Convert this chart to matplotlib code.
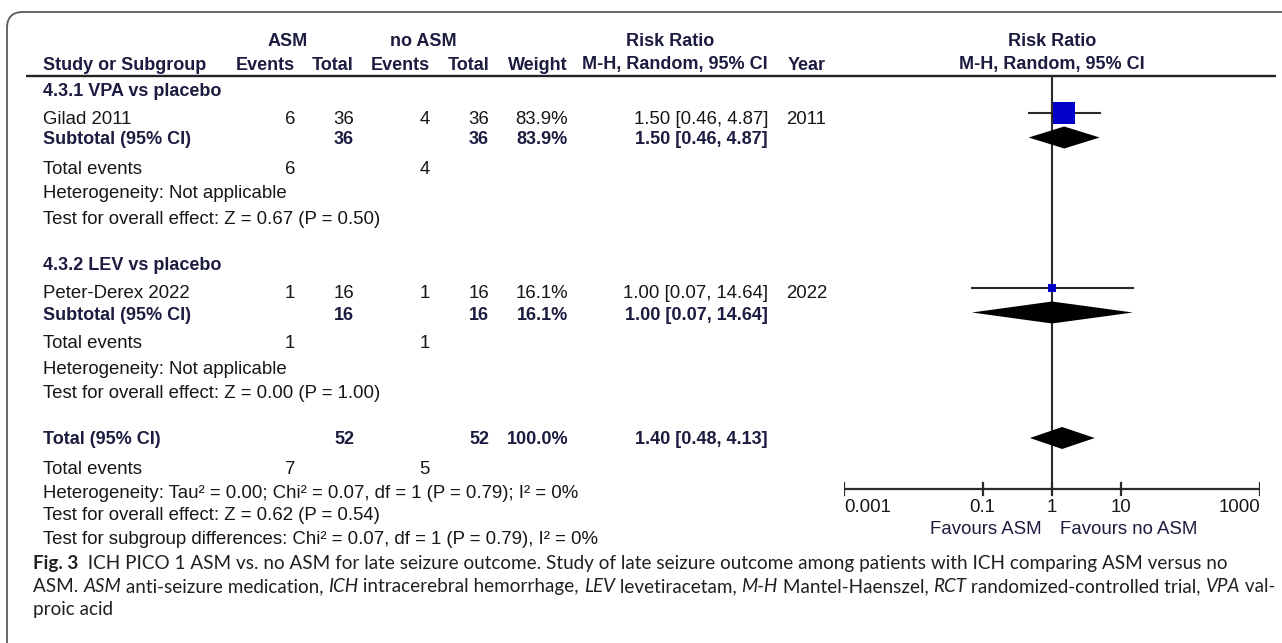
import matplotlib
matplotlib.use("Agg")
import matplotlib.pyplot as plt
from matplotlib.patches import FancyBboxPatch
from matplotlib.font_manager import FontProperties

# ---------------- data ----------------
subgroup_titles = ["4.3.1 VPA vs placebo", "4.3.2 LEV vs placebo"]
studies = ["Gilad 2011", "Peter-Derex 2022"]
years = ["2011", "2022"]
asm_events = [6, 1]
asm_total = [36, 16]
ctrl_events = [4, 1]
ctrl_total = [36, 16]
weights = [83.9, 16.1]
rr = [1.50, 1.00]
rr_low = [0.46, 0.07]
rr_high = [4.87, 14.64]
sub_z = [0.67, 0.00]
sub_p = [0.50, 1.00]

overall_rr, overall_low, overall_high = 1.40, 0.48, 4.13
overall_tau2, overall_chi2, overall_df, overall_p_het, overall_i2 = 0.00, 0.07, 1, 0.79, 0
overall_z, overall_p = 0.62, 0.54
subgroup_chi2, subgroup_df, subgroup_p, subgroup_i2 = 0.07, 1, 0.79, 0

axis_ticks = [0.001, 0.1, 1, 10, 1000]
axis_tick_labels = ["0.001", "0.1", "1", "10", "1000"]
favours_left = "Favours ASM"
favours_right = "Favours no ASM"

caption_lines = [
    [("Fig. 3", "bold", "normal"),
     ("  ICH PICO 1 ASM vs. no ASM for late seizure outcome. Study of late seizure "
      "outcome among patients with ICH comparing ASM versus no", "normal", "normal")],
    [("ASM. ", "normal", "normal"), ("ASM", "normal", "italic"),
     (" anti-seizure medication, ", "normal", "normal"), ("ICH", "normal", "italic"),
     (" intracerebral hemorrhage, ", "normal", "normal"), ("LEV", "normal", "italic"),
     (" levetiracetam, ", "normal", "normal"), ("M-H", "normal", "italic"),
     (" Mantel-Haenszel, ", "normal", "normal"), ("RCT", "normal", "italic"),
     (" randomized-controlled trial, ", "normal", "normal"), ("VPA", "normal", "italic"),
     (" val-", "normal", "normal")],
    [("proic acid", "normal", "normal")],
]

# ---------------- figure ----------------
W, H = 1282, 643
fig = plt.figure(figsize=(W / 100, H / 100), dpi=100)
canvas = fig.add_axes([0, 0, 1, 1])
canvas.set_xlim(0, W)
canvas.set_ylim(H, 0)
canvas.axis("off")
renderer = fig.canvas.get_renderer()

FONT = ["Liberation Sans", "DejaVu Sans"]
FS_REG = 13.4
FS_BOLD = 13.0
INK = "#161616"
HEAD = "#1c1c40"


def txt(x, yc, s, ha="left", bold=False, color=None):
    canvas.text(x, yc + 6.5, s, ha=ha, va="baseline",
                fontsize=FS_BOLD if bold else FS_REG, family=FONT,
                weight="bold" if bold else "normal",
                color=color or (HEAD if bold else INK))


# outer frame
canvas.add_patch(FancyBboxPatch((7, 12), 1310, 650,
                                boxstyle="round,pad=0,rounding_size=16",
                                fill=False, ec="#5a5a5a", lw=1.3))

# column anchors
X_NAME, X_AE, X_AT, X_CE, X_CT, X_W, X_CI, X_YR = 43, 295, 354, 430, 489, 568, 768, 786
X_PLOT = 1052

# header
txt(288, 39, "ASM", "center", True)
txt(423, 39, "no ASM", "center", True)
txt(670, 39, "Risk Ratio", "center", True)
txt(X_PLOT, 39, "Risk Ratio", "center", True)
txt(X_NAME, 63, "Study or Subgroup", bold=True)
txt(X_AE, 63, "Events", "right", True)
txt(X_AT, 63, "Total", "right", True)
txt(X_CE, 63, "Events", "right", True)
txt(X_CT, 63, "Total", "right", True)
txt(X_W, 63, "Weight", "right", True)
txt(X_CI, 63, "M-H, Random, 95% CI", "right", True)
txt(788, 63, "Year", bold=True)
txt(X_PLOT, 63, "M-H, Random, 95% CI", "center", True)
canvas.plot([26, 1276], [76, 76], color="#222222", lw=1.7, solid_capstyle="butt")

# forest panel on a log scale
fa = fig.add_axes([844 / W, 0, 416 / W, 1])
fa.set_xscale("log")
fa.set_xlim(axis_ticks[0], axis_ticks[-1])
fa.set_ylim(H, 0)
fa.axis("off")

LINE = "#2a2a2a"
fa.plot([1, 1], [76, 489], color=LINE, lw=1.5, zorder=1)


def diamond(est, lo, hi, yc, half=11):
    fa.fill([lo, est, hi, est], [yc, yc - half, yc, yc + half],
            color="black", lw=0, zorder=3)


def fmt_ci(est, lo, hi):
    return f"{est:.2f} [{lo:.2f}, {hi:.2f}]"


block_tops = [89, 264]
for i, top in enumerate(block_tops):
    y_study = top + 28
    y_sub = top + 49
    txt(X_NAME, top, subgroup_titles[i], bold=True)
    # study row
    txt(X_NAME, y_study, studies[i])
    txt(X_AE, y_study, str(asm_events[i]), "right")
    txt(X_AT, y_study, str(asm_total[i]), "right")
    txt(X_CE, y_study, str(ctrl_events[i]), "right")
    txt(X_CT, y_study, str(ctrl_total[i]), "right")
    txt(X_W, y_study, f"{weights[i]:.1f}%", "right")
    txt(X_CI, y_study, fmt_ci(rr[i], rr_low[i], rr_high[i]), "right")
    txt(X_YR, y_study, years[i])
    ym = y_study - 4
    fa.plot([rr_low[i], rr_high[i]], [ym, ym], color=LINE, lw=1.5, zorder=2)
    side_px = 1.177 * weights[i] ** (2 / 3)
    fa.plot([rr[i]], [ym], marker="s", ms=side_px * 0.72, mew=0,
            color="#0000c8", zorder=4)
    # subtotal row
    txt(X_NAME, y_sub, "Subtotal (95% CI)", bold=True)
    txt(X_AT, y_sub, str(asm_total[i]), "right", True)
    txt(X_CT, y_sub, str(ctrl_total[i]), "right", True)
    txt(X_W, y_sub, f"{weights[i]:.1f}%", "right", True)
    txt(X_CI, y_sub, fmt_ci(rr[i], rr_low[i], rr_high[i]), "right", True)
    diamond(rr[i], rr_low[i], rr_high[i], y_sub - 0.5)
    # summary lines
    txt(X_NAME, top + 78, "Total events")
    txt(X_AE, top + 78, str(asm_events[i]), "right")
    txt(X_CE, top + 78, str(ctrl_events[i]), "right")
    txt(X_NAME, top + 103, "Heterogeneity: Not applicable")
    txt(X_NAME, top + 128, f"Test for overall effect: Z = {sub_z[i]:.2f} (P = {sub_p[i]:.2f})")

# overall
y_tot = 438
txt(X_NAME, y_tot, "Total (95% CI)", bold=True)
txt(X_AT, y_tot, str(sum(asm_total)), "right", True)
txt(X_CT, y_tot, str(sum(ctrl_total)), "right", True)
txt(X_W, y_tot, f"{sum(weights):.1f}%", "right", True)
txt(X_CI, y_tot, fmt_ci(overall_rr, overall_low, overall_high), "right", True)
diamond(overall_rr, overall_low, overall_high, y_tot)
txt(X_NAME, 468, "Total events")
txt(X_AE, 468, str(sum(asm_events)), "right")
txt(X_CE, 468, str(sum(ctrl_events)), "right")
txt(X_NAME, 492, f"Heterogeneity: Tau\u00b2 = {overall_tau2:.2f}; Chi\u00b2 = {overall_chi2:.2f}, "
                 f"df = {overall_df} (P = {overall_p_het:.2f}); I\u00b2 = {overall_i2}%")
txt(X_NAME, 514, f"Test for overall effect: Z = {overall_z:.2f} (P = {overall_p:.2f})")
txt(X_NAME, 537, f"Test for subgroup differences: Chi\u00b2 = {subgroup_chi2:.2f}, "
                 f"df = {subgroup_df} (P = {subgroup_p:.2f}), I\u00b2 = {subgroup_i2}%")

# x axis of the forest panel
fa.plot([axis_ticks[0], axis_ticks[-1]], [489, 489], color=LINE, lw=1.6, zorder=2)
for k, (t, lab) in enumerate(zip(axis_ticks, axis_tick_labels)):
    fa.plot([t, t], [483, 495], color=LINE, lw=1.6, zorder=2)
    ha = "left" if k == 0 else ("right" if k == len(axis_ticks) - 1 else "center")
    fa.text(t, 505 + 6.5, lab, ha=ha, va="baseline", fontsize=FS_REG, family=FONT, color=INK)
txt(1042, 527, favours_left, "right", color=HEAD)
txt(1060, 527, favours_right, color=HEAD)

# caption
CAP_FONT = ["Lato", "DejaVu Sans"]
CAP_INK = "#231f20"


def advance(s, size, weight, style):
    prop = FontProperties(family=CAP_FONT, size=size, weight=weight, style=style)
    w1, _, _ = renderer.get_text_width_height_descent("|" + s + "|", prop, ismath=False)
    w0, _, _ = renderer.get_text_width_height_descent("||", prop, ismath=False)
    return w1 - w0


def line_width(runs, size):
    return sum(advance(s, size, wt, st) for s, wt, st in runs)


base = 12.0
ratio1 = 1197 / line_width(caption_lines[0], base)
ratio2 = 1234 / line_width(caption_lines[1], base)
cap_size = base * (ratio1 + ratio2) / 2
for runs, yc in zip(caption_lines, [563, 586, 609]):
    x = 33
    for s, wt, st in runs:
        canvas.text(x, yc + 6, s, ha="left", va="baseline", fontsize=cap_size,
                    family=CAP_FONT, weight=wt, style=st, color=CAP_INK)
        x += advance(s, cap_size, wt, st)

fig.savefig("out.png", dpi=100)
